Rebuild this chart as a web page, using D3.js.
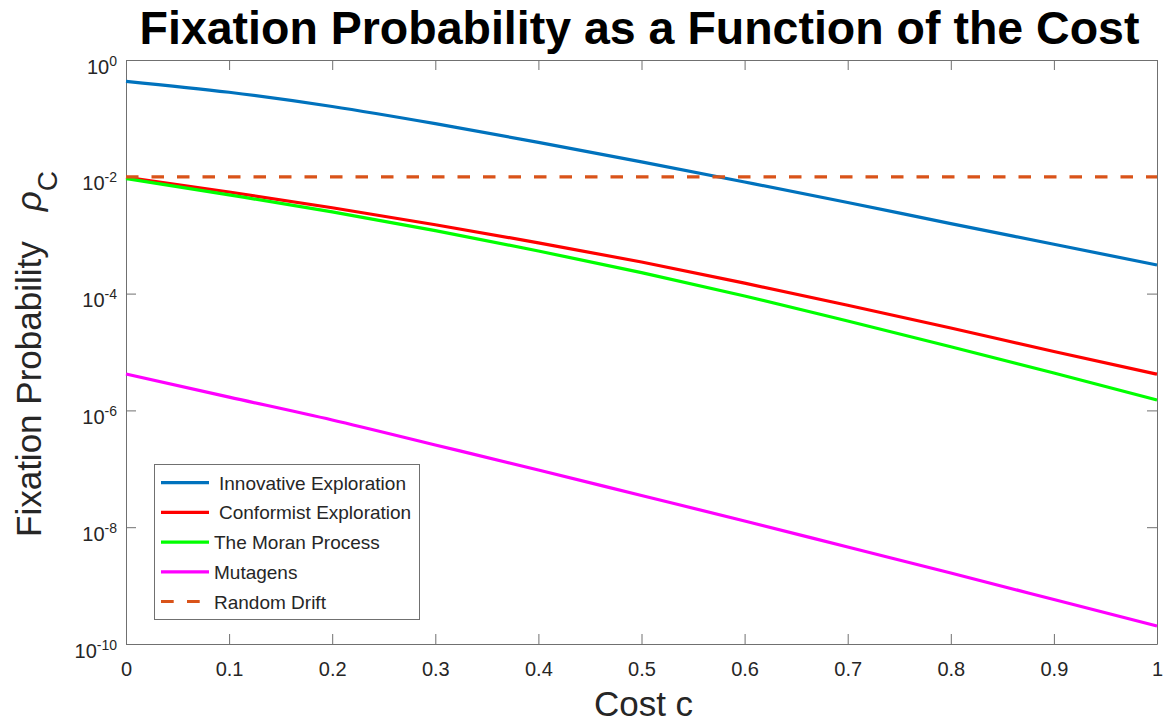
<!DOCTYPE html>
<html>
  <head>
    <meta charset="utf-8">
    <title>Fixation Probability as a Function of the Cost</title>
    <script src="https://d3js.org/d3.v7.min.js"></script>
    <style>
      body { margin: 0; background: #fff; }
      svg { display: block; font-family: "Liberation Sans", Arial, Helvetica, sans-serif; }
    </style>
  </head>
  <body>
    <div id="chart"></div>
    <script>
      // Cost values (x) and fixation probabilities
      var cost = [0, 0.1, 0.2, 0.3, 0.4, 0.5, 0.6, 0.7, 0.8, 0.9, 1.0];
      var innovative = [4.32e-1, 2.80e-1, 1.60e-1, 8.13e-2, 3.89e-2, 1.80e-2, 8.13e-3, 3.63e-3, 1.58e-3, 7.00e-4, 3.09e-4];
      var conformist = [9.77e-3, 5.50e-3, 2.95e-3, 1.51e-3, 7.41e-4, 3.47e-4, 1.51e-4, 6.31e-5, 2.57e-5, 1.02e-5, 4.17e-6];
      var moran = [9.33e-3, 4.90e-3, 2.51e-3, 1.20e-3, 5.37e-4, 2.29e-4, 9.12e-5, 3.39e-5, 1.23e-5, 4.37e-6, 1.51e-6];
      var mutagens = [4.20e-6, 1.69e-6, 6.85e-7, 2.56e-7, 9.53e-8, 3.49e-8, 1.28e-8, 4.58e-9, 1.64e-9, 5.78e-10, 2.03e-10];
      var drift = [0.01, 0.01, 0.01, 0.01, 0.01, 0.01, 0.01, 0.01, 0.01, 0.01, 0.01];

      var xTicks = [0, 0.1, 0.2, 0.3, 0.4, 0.5, 0.6, 0.7, 0.8, 0.9, 1];
      var xTickLabels = ["0", "0.1", "0.2", "0.3", "0.4", "0.5", "0.6", "0.7", "0.8", "0.9", "1"];
      var yTicks = [1, 1e-2, 1e-4, 1e-6, 1e-8, 1e-10];
      var yTickExponents = ["0", "-2", "-4", "-6", "-8", "-10"];

      var seriesNames = ["Innovative Exploration", "Conformist Exploration", "The Moran Process", "Mutagens", "Random Drift"];
      var seriesValues = [innovative, conformist, moran, mutagens, drift];
      var seriesColors = ["#0072BD", "#FF0000", "#00FF00", "#FF00FF", "#D95319"];

      var W = 1164, H = 724;
      var pLeft = 126, pRight = 1157, pTop = 60, pBottom = 644;

      var svg = d3.select("#chart").append("svg")
          .attr("width", W)
          .attr("height", H);
      svg.append("rect").attr("width", W).attr("height", H).attr("fill", "#fff");

      var x = d3.scaleLinear().domain([0, 1]).range([pLeft, pRight]);
      var y = d3.scaleLog().domain([1e-10, 1]).range([pBottom, pTop]);

      // Axes (MATLAB box style, ticks pointing in)
      var axisColor = "#707070";
      function styleAxis(g) {
        g.selectAll("path.domain").attr("stroke", axisColor);
        g.selectAll(".tick line").attr("stroke", axisColor);
      }

      var gx = svg.append("g")
          .attr("transform", "translate(0," + pBottom + ")")
          .call(d3.axisBottom(x).tickValues(xTicks).tickSize(-10).tickSizeOuter(0)
                .tickFormat(function(d, i) { return xTickLabels[i]; }));
      gx.call(styleAxis);
      gx.selectAll(".tick text")
        .attr("y", 32).attr("dy", 0)
        .attr("font-size", 20).attr("fill", "#262626")
        .attr("font-family", "Liberation Sans, Arial, sans-serif");

      svg.append("g")
          .attr("transform", "translate(0," + pTop + ")")
          .call(d3.axisTop(x).tickValues(xTicks).tickSize(-10).tickSizeOuter(0).tickFormat(""))
          .call(styleAxis);

      var gy = svg.append("g")
          .attr("transform", "translate(" + pLeft + ",0)")
          .call(d3.axisLeft(y).tickValues(yTicks).tickSize(-10).tickSizeOuter(0).tickFormat(""));
      gy.call(styleAxis);
      gy.selectAll(".tick text").remove();
      gy.selectAll(".tick").each(function(d, i) {
        var t = d3.select(this).append("text")
            .attr("x", -9).attr("y", 13)
            .attr("text-anchor", "end")
            .attr("fill", "#262626")
            .attr("font-family", "Liberation Sans, Arial, sans-serif")
            .attr("font-size", 20);
        t.append("tspan").text("10");
        t.append("tspan").attr("dy", -8).attr("font-size", 14).text(yTickExponents[i]);
      });

      svg.append("g")
          .attr("transform", "translate(" + pRight + ",0)")
          .call(d3.axisRight(y).tickValues(yTicks).tickSize(-10).tickSizeOuter(0).tickFormat(""))
          .call(styleAxis);

      // Series lines
      var line = d3.line()
          .x(function(d) { return x(d[0]); })
          .y(function(d) { return y(d[1]); })
          .curve(d3.curveMonotoneX);

      seriesValues.forEach(function(vals, k) {
        var pts = cost.map(function(c, i) { return [c, vals[i]]; });
        svg.append("path")
          .datum(pts)
          .attr("fill", "none")
          .attr("stroke", seriesColors[k])
          .attr("stroke-width", 3.2)
          .attr("stroke-dasharray", k === 4 ? "12.5,13" : null)
          .attr("d", line);
      });

      // Legend
      var lg = svg.append("g");
      lg.append("rect")
        .attr("x", 154.5).attr("y", 464.5).attr("width", 265).attr("height", 155)
        .attr("fill", "#fff").attr("stroke", "#707070").attr("stroke-width", 1);
      var textX = [219, 219, 214, 214, 214];
      seriesNames.forEach(function(name, k) {
        var ry = 482.7 + k * 29.7;
        lg.append("line")
          .attr("x1", 161).attr("x2", 209).attr("y1", ry).attr("y2", ry)
          .attr("stroke", seriesColors[k]).attr("stroke-width", 3.2)
          .attr("stroke-dasharray", k === 4 ? "12.7,13.3" : null);
        lg.append("text")
          .attr("x", textX[k]).attr("y", ry + 7)
          .attr("font-size", 19).attr("fill", "#262626")
          .text(name);
      });

      // Title
      svg.append("text")
        .attr("x", (pLeft + pRight) / 2 - 2).attr("y", 44)
        .attr("text-anchor", "middle")
        .attr("font-size", 46.5).attr("font-weight", "bold").attr("fill", "#000")
        .text("Fixation Probability as a Function of the Cost");

      // X axis label
      svg.append("text")
        .attr("x", (pLeft + pRight) / 2 + 2).attr("y", 716)
        .attr("text-anchor", "middle")
        .attr("font-size", 35).attr("fill", "#262626")
        .text("Cost c");

      // Y axis label
      var yl = svg.append("text")
        .attr("transform", "translate(41," + ((pTop + pBottom) / 2 + 2) + ") rotate(-90)")
        .attr("text-anchor", "middle")
        .attr("font-size", 35).attr("fill", "#262626");
      yl.append("tspan").text("Fixation Probability");
      yl.append("tspan").attr("dx", 30).attr("font-style", "italic").text("ρ");
      yl.append("tspan").attr("dy", 16).attr("font-size", 28).text("C");
    </script>
  </body>
</html>
